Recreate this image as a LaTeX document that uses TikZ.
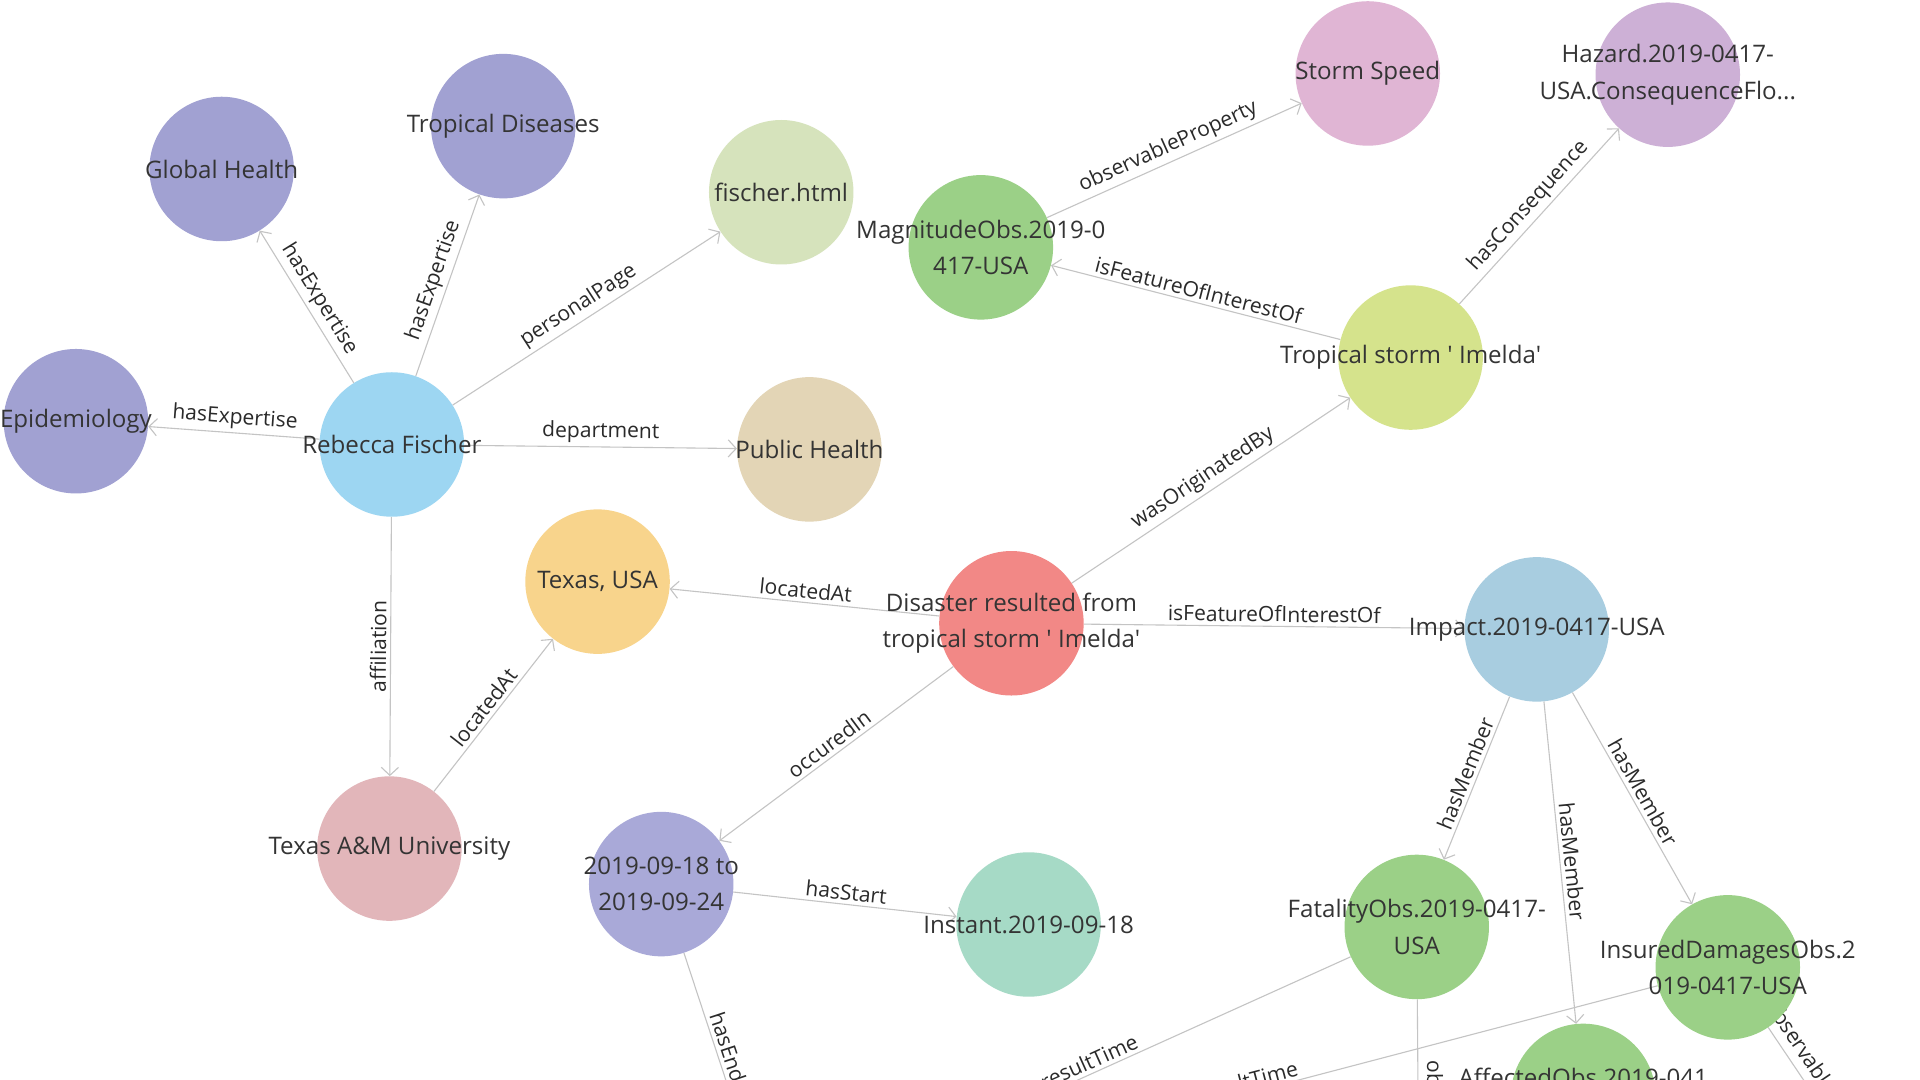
\documentclass[tikz,border=0pt]{standalone}
\usepackage{fontspec}
\setmainfont{Open Sans}[Ligatures=TeXOff]
\usetikzlibrary{arrows.meta}
\pgfdeclarelayer{bglayer}
\pgfdeclarelayer{edgelayer}
\pgfsetlayers{bglayer,edgelayer,main}
\definecolor{txtgray}{HTML}{343434}
\definecolor{labgray}{HTML}{2A2A2A}
\definecolor{edgegray}{HTML}{C4C4C4}
\definecolor{cLav}{HTML}{A1A1D2}
\definecolor{cRF}{HTML}{9DD6F2}
\definecolor{cFH}{HTML}{D6E3BC}
\definecolor{cPH}{HTML}{E3D5B6}
\definecolor{cGreen}{HTML}{9BD087}
\definecolor{cSS}{HTML}{E0B5D4}
\definecolor{cHZ}{HTML}{CDB0D6}
\definecolor{cTS}{HTML}{D5E38C}
\definecolor{cTX}{HTML}{F8D48C}
\definecolor{cDS}{HTML}{F28886}
\definecolor{cIM}{HTML}{A8CDE0}
\definecolor{cTAM}{HTML}{E2B6BA}
\definecolor{cDR}{HTML}{A9A9D8}
\definecolor{cIN}{HTML}{A6DAC6}
\tikzset{
  ball/.style={circle, minimum size=118pt, inner sep=0pt, draw=none},
  ntext/.style={font=\fontsize{19.7}{29.5}\selectfont, text=txtgray, align=center, inner sep=0pt},
  edge/.style={draw=edgegray, line width=0.9pt, -{Straight Barb[length=6.5pt,width=14pt]}},
  elab/.style={font=\fontsize{17.2}{19}\selectfont, text=labgray, sloped, above=2pt, inner sep=1pt},
}
\begin{document}
\begin{tikzpicture}[x=1pt,y=-1pt]
\useasboundingbox (0,0) rectangle (1568,882);
\begin{pgfonlayer}{bglayer}
\fill[white] (0,0) rectangle (1568,882);
\end{pgfonlayer}
\clip (0,0) rectangle (1568,882);
% circles
\node[ball, fill=cLav] (gh) at (181,138) {};
\node[ball, fill=cLav] (td) at (411,103) {};
\node[ball, fill=cLav] (epi) at (62,344) {};
\node[ball, fill=cRF] (rf) at (320,363) {};
\node[ball, fill=cFH] (fh) at (638,157) {};
\node[ball, fill=cPH] (ph) at (661,367) {};
\node[ball, fill=cGreen] (mo) at (801,202) {};
\node[ball, fill=cSS] (ss) at (1117,60) {};
\node[ball, fill=cHZ] (hz) at (1362,61) {};
\node[ball, fill=cTS] (ts) at (1152,292) {};
\node[ball, fill=cTX] (tx) at (488,475) {};
\node[ball, fill=cDS] (ds) at (826,509) {};
\node[ball, fill=cIM] (im) at (1255,514) {};
\node[ball, fill=cTAM] (tam) at (318,693) {};
\node[ball, fill=cDR] (dr) at (540,722) {};
\node[ball, fill=cIN] (in) at (840,755) {};
\node[ball, fill=cGreen] (fo) at (1157,757) {};
\node[ball, fill=cGreen] (ido) at (1411,790) {};
\node[ball, fill=cGreen] (ao) at (1293,895) {};
\coordinate (endT) at (630,995);
\coordinate (opA) at (1160,1143);
\coordinate (opB) at (1553,1001);
% texts
\node[ntext] (gh-t) at (gh) {Global Health};
\node[ntext] (td-t) at (td) {Tropical Diseases};
\node[ntext] (epi-t) at (epi) {Epidemiology};
\node[ntext] (rf-t) at (rf) {Rebecca Fischer};
\node[ntext] (fh-t) at (fh) {fischer.html};
\node[ntext] (ph-t) at (ph) {Public Health};
\node[ntext] (mo-t) at (mo) {MagnitudeObs.2019-0\\417-USA};
\node[ntext] (ss-t) at (ss) {Storm Speed};
\node[ntext] (hz-t) at (hz) {Hazard.2019-0417-\\USA.ConsequenceFlo...};
\node[ntext] (ts-t) at (ts) {Tropical storm ' Imelda'};
\node[ntext] (tx-t) at (tx) {Texas, USA};
\node[ntext] (ds-t) at (ds) {Disaster resulted from\\tropical storm ' Imelda'};
\node[ntext] (im-t) at (im) {Impact.2019-0417-USA};
\node[ntext] (tam-t) at (tam) {Texas A\&M University};
\node[ntext] (dr-t) at (dr) {2019-09-18 to\\2019-09-24};
\node[ntext] (in-t) at (in) {Instant.2019-09-18};
\node[ntext] (fo-t) at (fo) {FatalityObs.2019-0417-\\USA};
\node[ntext] (ido-t) at (ido) {InsuredDamagesObs.2\\019-0417-USA};
\node[ntext] (ao-t) at (ao) {AffectedObs.2019-041\\7-USA};
% edges
\begin{pgfonlayer}{edgelayer}
\clip (0,0) rectangle (1568,882);
\path[edge] (rf) -- node[elab]{hasExpertise} (gh);
\path[edge] (rf) -- node[elab]{hasExpertise} (td);
\path[edge] (rf) -- node[elab]{hasExpertise} (epi);
\path[edge] (rf) -- node[elab]{personalPage} (fh);
\path[edge] (rf) -- node[elab]{department} (ph);
\path[edge] (rf) -- node[elab]{affiliation} (tam);
\path[edge] (tam) -- node[elab]{locatedAt} (tx);
\path[edge] (ds) -- node[elab]{locatedAt} (tx);
\path[edge] (ds) -- node[elab]{wasOriginatedBy} (ts);
\path[edge] (ds) -- node[elab]{isFeatureOfInterestOf} (im);
\path[edge] (ds) -- node[elab]{occuredIn} (dr);
\path[edge] (ts) -- node[elab]{isFeatureOfInterestOf} (mo);
\path[edge] (mo) -- node[elab]{observableProperty} (ss);
\path[edge] (ts) -- node[elab]{hasConsequence} (hz);
\path[edge] (dr) -- node[elab]{hasStart} (in);
\path[edge, shorten >=59pt] (dr) -- node[elab, pos=0.37]{hasEnd} (endT);
\path[edge] (im) -- node[elab]{hasMember} (fo);
\path[edge] (im) -- node[elab]{hasMember} (ao);
\path[edge] (im) -- node[elab]{hasMember} (ido);
\path[edge, shorten >=59pt] (fo) -- node[elab, pos=0.443]{resultTime} (endT);
\path[edge, shorten >=59pt] (ido) -- node[elab, pos=0.46]{resultTime} (endT);
\path[edge, shorten >=59pt] (fo) -- node[elab, pos=0.395]{observableProperty} (opA);
\path[edge, shorten >=59pt] (ido) -- node[elab, pos=0.32]{observableProperty} (opB);
\end{pgfonlayer}
\end{tikzpicture}
\end{document}
